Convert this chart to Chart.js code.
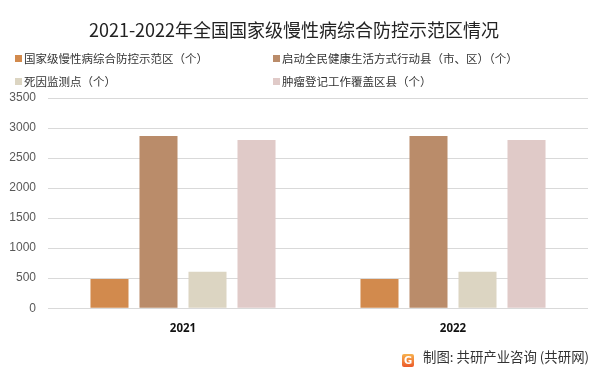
<!DOCTYPE html>
<html>
<head>
<meta charset="utf-8">
<script src="https://cdn.jsdelivr.net/npm/chart.js@4"></script>
<style>
  body { margin: 0; background: #fff; }
  #wrap { position: relative; width: 600px; height: 373px; font-family: "Noto Sans CJK SC", "Noto Sans", sans-serif; }
  #legend { position: absolute; left: 0; top: 0; width: 600px; height: 100px; pointer-events: none; }
  .item { position: absolute; font-size: 11.5px; color: #333; white-space: nowrap; line-height: 14px; }
  .item i { display: inline-block; width: 7px; height: 7px; margin-right: 2px; vertical-align: 1px; }
  #footer { position: absolute; left: 402px; top: 346px; font-size: 13.4px; color: #333; white-space: nowrap; }
  #footer b { display: inline-block; width: 12px; height: 13px; border-radius: 2px; margin-right: 9px; vertical-align: -2px;
              background: linear-gradient(#f7b14d, #ec5a2a); color: #fff; font-size: 10px; line-height: 13px; text-align: center; font-family: "DejaVu Sans", sans-serif; }
</style>
</head>
<body>
<div id="wrap">
  <canvas id="chart" width="600" height="373"></canvas>
  <div id="legend"></div>
  <div id="footer"><b>G</b>制图: 共研产业咨询 (共研网)</div>
</div>
<script>
const years = ["2021", "2022"];
const seriesNames = [
  "国家级慢性病综合防控示范区（个）",
  "启动全民健康生活方式行动县（市、区）（个）",
  "死因监测点（个）",
  "肿瘤登记工作覆盖区县（个）"
];
const demoZones = [488, 488];
const actionCounties = [2868, 2868];
const deathMonitoring = [605, 605];
const tumorCounties = [2800, 2800];
const colors = ["#D28A4D", "#BA8C6A", "#DCD5C2", "#E0CAC8"];

const values = [demoZones, actionCounties, deathMonitoring, tumorCounties];

// two-column legend
const legendPos = [[15, 51], [273, 51], [15, 74], [273, 74]];
const legendEl = document.getElementById("legend");
seriesNames.forEach((name, i) => {
  const d = document.createElement("div");
  d.className = "item";
  d.style.left = legendPos[i][0] + "px";
  d.style.top = legendPos[i][1] + "px";
  d.innerHTML = '<i style="background:' + colors[i] + '"></i>' + name;
  legendEl.appendChild(d);
});

new Chart(document.getElementById("chart"), {
  type: "bar",
  data: {
    labels: years,
    datasets: seriesNames.map((name, i) => ({
      label: name,
      data: values[i],
      backgroundColor: colors[i],
      categoryPercentage: 0.726,
      barPercentage: 0.776
    }))
  },
  options: {
    responsive: false,
    animation: false,
    layout: { padding: { left: 0, right: 12, top: 0, bottom: 31 } },
    plugins: {
      legend: { display: false },
      tooltip: { enabled: false },
      title: {
        display: true,
        text: "2021-2022年全国国家级慢性病综合防控示范区情况",
        color: "#222",
        font: { family: "'Noto Sans CJK SC', sans-serif", size: 18, weight: "normal" },
        padding: { top: 19, bottom: 57.4 }
      }
    },
    scales: {
      x: {
        grid: { display: false },
        border: { display: false },
        ticks: { color: "#111", padding: 6, font: { family: "'Noto Sans', sans-serif", size: 11.5, weight: "bold" } }
      },
      y: {
        min: 0,
        max: 3500,
        afterFit: s => { s.width = 48; },
        grid: { color: "#d9d9d9", drawTicks: false },
        border: { display: false },
        ticks: {
          stepSize: 500, color: "#595959", padding: 12,
          font: { family: "'Liberation Sans', sans-serif", size: 12 },
          callback: v => String(v)
        }
      }
    }
  }
});
</script>
</body>
</html>
